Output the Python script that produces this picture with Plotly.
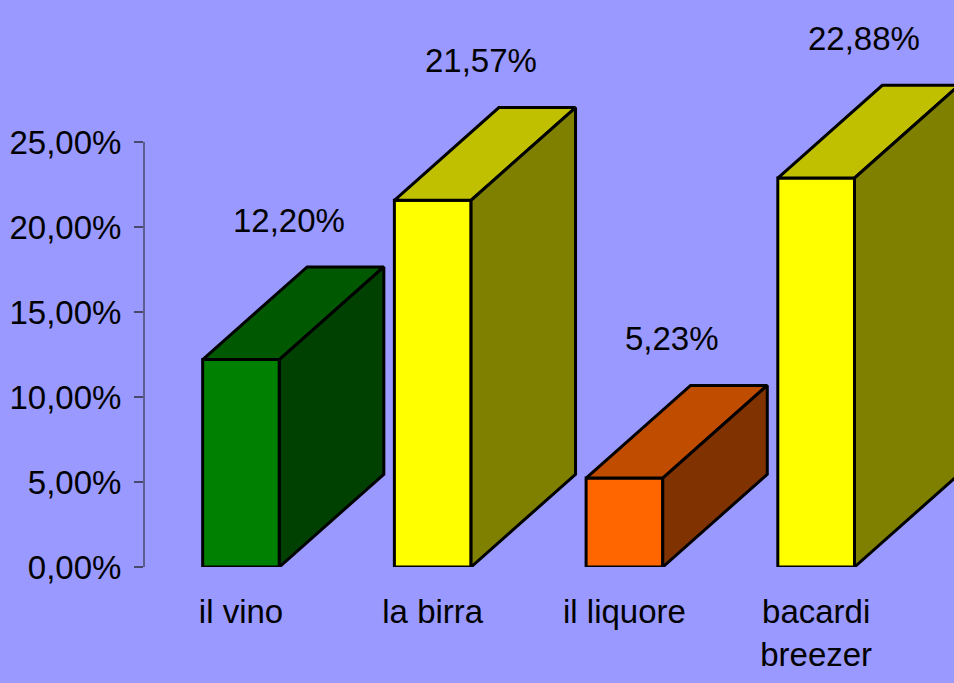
import plotly.graph_objects as go

categories = ["il vino", "la birra", "il liquore", "bacardi<br>breezer"]
values = [12.20, 21.57, 5.23, 22.88]
value_labels = ["12,20%", "21,57%", "5,23%", "22,88%"]
y_ticks = [0, 5, 10, 15, 20, 25]
y_tick_labels = ["0,00%", "5,00%", "10,00%", "15,00%", "20,00%", "25,00%"]

front_colors = ["#008000", "#FFFF00", "#FF6600", "#FFFF00"]
top_colors = ["#005800", "#C0C000", "#C04C00", "#C0C000"]
side_colors = ["#004000", "#808000", "#803300", "#808000"]

bar_width = 0.40
depth_x = 0.545
depth_y = 5.45

font = dict(family="Liberation Sans, Arial", size=33, color="black")


def face(xs, ys, color):
    return go.Scatter(
        x=xs + [xs[0]],
        y=ys + [ys[0]],
        mode="lines",
        fill="toself",
        fillcolor=color,
        line=dict(color="black", width=3),
        hoverinfo="skip",
        showlegend=False
    )


fig = go.Figure()

for i, v in enumerate(values):
    x0 = i - bar_width / 2
    x1 = i + bar_width / 2

    fig.add_trace(
        face([x0, x0, x1, x1], [0, v, v, 0], front_colors[i])
    )
    fig.add_trace(
        face(
            [x0, x0 + depth_x, x1 + depth_x, x1],
            [v, v + depth_y, v + depth_y, v],
            top_colors[i]
        )
    )
    fig.add_trace(
        face(
            [x1, x1, x1 + depth_x, x1 + depth_x],
            [0, v, v + depth_y, depth_y],
            side_colors[i]
        )
    )

    fig.add_annotation(
        x=i + 0.25,
        y=v + 8.2,
        text=value_labels[i],
        showarrow=False,
        font=font
    )

fig.add_shape(
    type="line",
    xref="paper",
    yref="y",
    x0=0,
    x1=0,
    y0=0,
    y1=25,
    line=dict(color="#4A4A6A", width=1.5)
)

fig.update_layout(
    width=954,
    height=683,
    margin=dict(l=144, r=0, t=0, b=116),
    paper_bgcolor="#9999FF",
    plot_bgcolor="#9999FF",
    font=font,
    showlegend=False
)

fig.update_xaxes(
    range=[-0.506, 3.719],
    tickvals=list(range(len(categories))),
    ticktext=categories,
    tickfont=font,
    showgrid=False,
    zeroline=False,
    showline=False,
    ticks="",
    ticklabelstandoff=22
)

fig.update_yaxes(
    range=[0, 33.35],
    tickvals=y_ticks,
    ticktext=y_tick_labels,
    tickfont=font,
    showgrid=False,
    zeroline=False,
    showline=False,
    ticks="outside",
    ticklen=9,
    tickcolor="#4A4A6A",
    tickwidth=1.5,
    ticklabelstandoff=6
)

fig.write_html(
    "out.html",
    config={"displayModeBar": False},
    post_script="document.body.style.margin = '0';"
)
